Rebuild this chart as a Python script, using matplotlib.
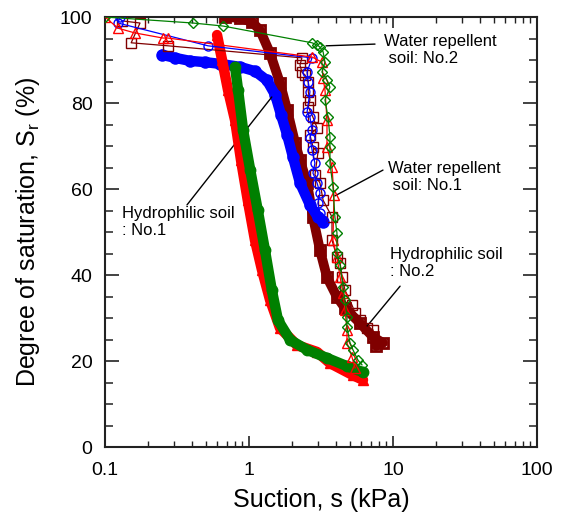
import matplotlib
matplotlib.use("Agg")
import matplotlib.pyplot as plt
from matplotlib.ticker import FixedLocator, FixedFormatter, NullFormatter, MultipleLocator

plt.rcParams['font.family'] = ['Liberation Sans', 'DejaVu Sans']

# ---------------- data (suction kPa, degree of saturation %) ----------------
# dense measured curves
red_dense_s = [0.60, 0.65, 0.715, 0.80, 0.88, 0.98, 1.10, 1.23, 1.40, 1.64, 2.15, 2.97, 3.65, 5.27, 6.19]
red_dense_sr = [95.8, 90.0, 83.0, 76.0, 66.7, 57.4, 48.1, 41.2, 34.2, 27.7, 23.7, 22.1, 19.5, 16.7, 15.6]

green_dense_s = [0.80, 0.84, 0.91, 1.02, 1.15, 1.29, 1.44, 1.59, 1.93, 2.53, 3.48, 4.79, 6.19]
green_dense_sr = [88.4, 83.0, 73.7, 64.4, 55.1, 45.8, 36.5, 29.5, 24.9, 22.6, 20.7, 18.8, 17.4]

blue_dense_s = [0.249, 0.306, 0.389, 0.495, 0.63, 0.866, 1.10, 1.33, 1.52, 1.67, 1.84, 2.02, 2.26, 2.65, 3.01, 3.27]
blue_dense_sr = [91.2, 90.5, 89.8, 89.5, 89.1, 88.4, 87.4, 85.3, 81.9, 77.2, 72.6, 67.4, 61.4, 56.3, 53.5, 52.3]

maroon_dense_s = [0.68, 0.866, 1.05, 1.19, 1.40, 1.64, 1.84, 2.09, 2.26, 2.53, 2.78, 3.11, 3.48, 4.08, 4.64, 5.90, 7.26, 8.52, 7.62]
maroon_dense_sr = [100.0, 99.8, 98.8, 97.0, 91.6, 84.7, 78.4, 70.7, 66.7, 61.4, 53.5, 45.8, 39.5, 34.9, 32.3, 28.8, 25.6, 24.2, 23.5]

# sparse measured series
red_open_s = [0.100, 0.123, 0.161, 0.253, 0.274, 2.74, 3.21, 3.27, 3.37, 3.48, 3.48, 3.77, 3.89, 3.83, 4.08, 4.29, 4.50, 4.64, 4.79, 4.79, 5.19, 5.45]
red_open_sr = [100.0, 97.4, 96.3, 95.1, 95.1, 90.7, 89.5, 85.8, 83.0, 76.0, 69.8, 65.1, 58.6, 48.1, 44.2, 39.5, 35.8, 31.9, 27.2, 24.2, 20.9, 18.4]

green_open_s = [0.100, 0.408, 0.66, 2.74, 2.97, 3.11, 3.27, 3.37, 3.21, 3.48, 3.65, 3.37, 3.54, 3.65, 3.65, 3.65, 3.83, 3.95, 4.08, 4.08, 4.29, 4.50, 4.64, 4.79, 4.79, 5.03, 5.27, 5.71, 6.09]
green_open_sr = [100.0, 98.6, 97.9, 94.0, 93.5, 93.0, 91.9, 89.5, 87.2, 85.3, 83.7, 80.7, 76.7, 72.1, 69.8, 66.0, 60.5, 53.5, 49.8, 45.1, 42.3, 37.2, 34.2, 30.2, 27.9, 24.2, 22.6, 20.2, 19.1]

blue_open_s = [0.127, 0.123, 0.519, 2.74, 2.53, 2.58, 2.65, 2.53, 2.65, 2.74, 2.65, 2.74, 2.87, 2.78, 2.97, 3.11, 3.01, 3.11, 3.27]
blue_open_sr = [100.0, 98.6, 93.3, 90.5, 87.2, 84.9, 82.6, 77.9, 76.7, 73.7, 71.9, 69.1, 66.0, 63.7, 61.4, 59.1, 56.7, 54.4, 52.8]

maroon_open_s = [0.131, 0.175, 0.152, 0.274, 2.33, 2.26, 2.33, 2.45, 2.58, 2.58, 2.65, 2.58, 2.78, 2.97, 2.65, 2.78, 3.01, 2.87, 3.11, 3.27, 3.77, 3.77, 4.08, 4.29, 4.43, 4.64, 5.19, 5.45, 5.90, 6.60, 7.26]
maroon_open_sr = [99.1, 98.6, 94.0, 93.3, 90.5, 88.8, 87.2, 86.5, 84.9, 82.6, 80.7, 79.1, 76.7, 74.2, 72.6, 69.8, 68.4, 63.3, 61.4, 57.4, 53.5, 48.1, 44.2, 42.8, 39.5, 36.5, 33.0, 31.2, 29.5, 27.7, 27.2]

x_ticks = [0.1, 1, 10, 100]
x_tick_labels = ['0.1', '1', '10', '100']
y_ticks = [0, 20, 40, 60, 80, 100]

RED, GREEN, BLUE, MAROON = '#ff0000', '#008000', '#0000ff', '#800000'

# ---------------- figure ----------------
fig = plt.figure(figsize=(5.67, 5.24), dpi=100)
ax = fig.add_axes([105/567, 1-447/524, 432/567, 430/524])
ax.set_xscale('log')

# dense curves: thick band + markers
ax.plot(maroon_dense_s, maroon_dense_sr, '-', color=MAROON, lw=7, solid_capstyle='round',
        solid_joinstyle='round', marker='s', ms=6.5, mfc='none', mec=MAROON, mew=2, zorder=2)
ax.plot(blue_dense_s, blue_dense_sr, '-', color=BLUE, lw=7.5, solid_capstyle='round',
        solid_joinstyle='round', marker='o', ms=7.5, mfc='none', mec=BLUE, mew=1.5, zorder=3)
ax.plot(red_dense_s, red_dense_sr, '-', color=RED, lw=7.5, solid_capstyle='round',
        solid_joinstyle='round', marker='^', ms=7.5, mfc=RED, mec=RED, zorder=4)
ax.plot(green_dense_s, green_dense_sr, '-', color=GREEN, lw=7.5, solid_capstyle='round',
        solid_joinstyle='round', marker='o', ms=7.5, mfc=GREEN, mec=GREEN, zorder=5)

# sparse series: thin line + open markers
ax.plot(maroon_open_s, maroon_open_sr, '-', color=MAROON, lw=0.9, marker='s', ms=6.5,
        mfc='none', mec=MAROON, mew=1.0, zorder=6)
ax.plot(blue_open_s, blue_open_sr, '-', color=BLUE, lw=0.9, marker='o', ms=6.5,
        mfc='none', mec=BLUE, mew=1.0, zorder=7)
ax.plot(red_open_s, red_open_sr, '-', color=RED, lw=0.9, marker='^', ms=6.5,
        mfc='none', mec=RED, mew=1.0, zorder=8)
ax.plot(green_open_s, green_open_sr, '-', color=GREEN, lw=0.9, marker='D', ms=5.5,
        mfc='none', mec=GREEN, mew=1.0, zorder=9)

# annotations
akw = dict(fontsize=12, ha='left', va='top', linespacing=1.15)
lkw = dict(arrowprops=dict(arrowstyle='-', color='black', lw=1.0, shrinkA=0, shrinkB=0))
ax.annotate('', xy=(3.43, 93.3), xytext=(7.5, 93.7), **lkw)
ax.text(8.66, 96.0, 'Water repellent\n soil: No.2', **akw)
ax.annotate('', xy=(3.95, 58.4), xytext=(8.52, 64.4), **lkw)
ax.text(9.23, 66.5, 'Water repellent\n soil: No.1', **akw)
ax.annotate('', xy=(6.60, 28.1), xytext=(11.2, 37.4), **lkw)
ax.text(9.53, 46.5, 'Hydrophilic soil\n: No.2', **akw)
ax.annotate('', xy=(1.44, 81.4), xytext=(0.371, 56.3), **lkw)
ax.text(0.131, 56.0, 'Hydrophilic soil\n: No.1', **akw)

# axes formatting
ax.set_xlim(0.1, 100)
ax.set_ylim(0, 100)
ax.xaxis.set_major_locator(FixedLocator(x_ticks))
ax.xaxis.set_major_formatter(FixedFormatter(x_tick_labels))
ax.xaxis.set_minor_formatter(NullFormatter())
ax.yaxis.set_major_locator(FixedLocator(y_ticks))
ax.yaxis.set_minor_locator(MultipleLocator(5))

ax.tick_params(which='both', direction='in', top=True, right=True, colors='#222222', labelcolor='black')
ax.tick_params(axis='x', which='major', length=8, width=1.2, labelsize=14, pad=11)
ax.tick_params(axis='x', which='minor', length=4.5, width=1.0)
ax.tick_params(axis='y', which='major', length=10, width=1.2, labelsize=14, pad=9)
ax.tick_params(axis='y', which='minor', length=6, width=1.1)
for sp in ax.spines.values():
    sp.set_linewidth(1.5)
    sp.set_color('#222222')

ax.set_xlabel('Suction, s (kPa)', fontsize=18, labelpad=6)
ax.set_ylabel('Degree of saturation, S$_\\mathregular{r}$ (%)', fontsize=18, labelpad=13)

fig.savefig('out.png', dpi=100)
